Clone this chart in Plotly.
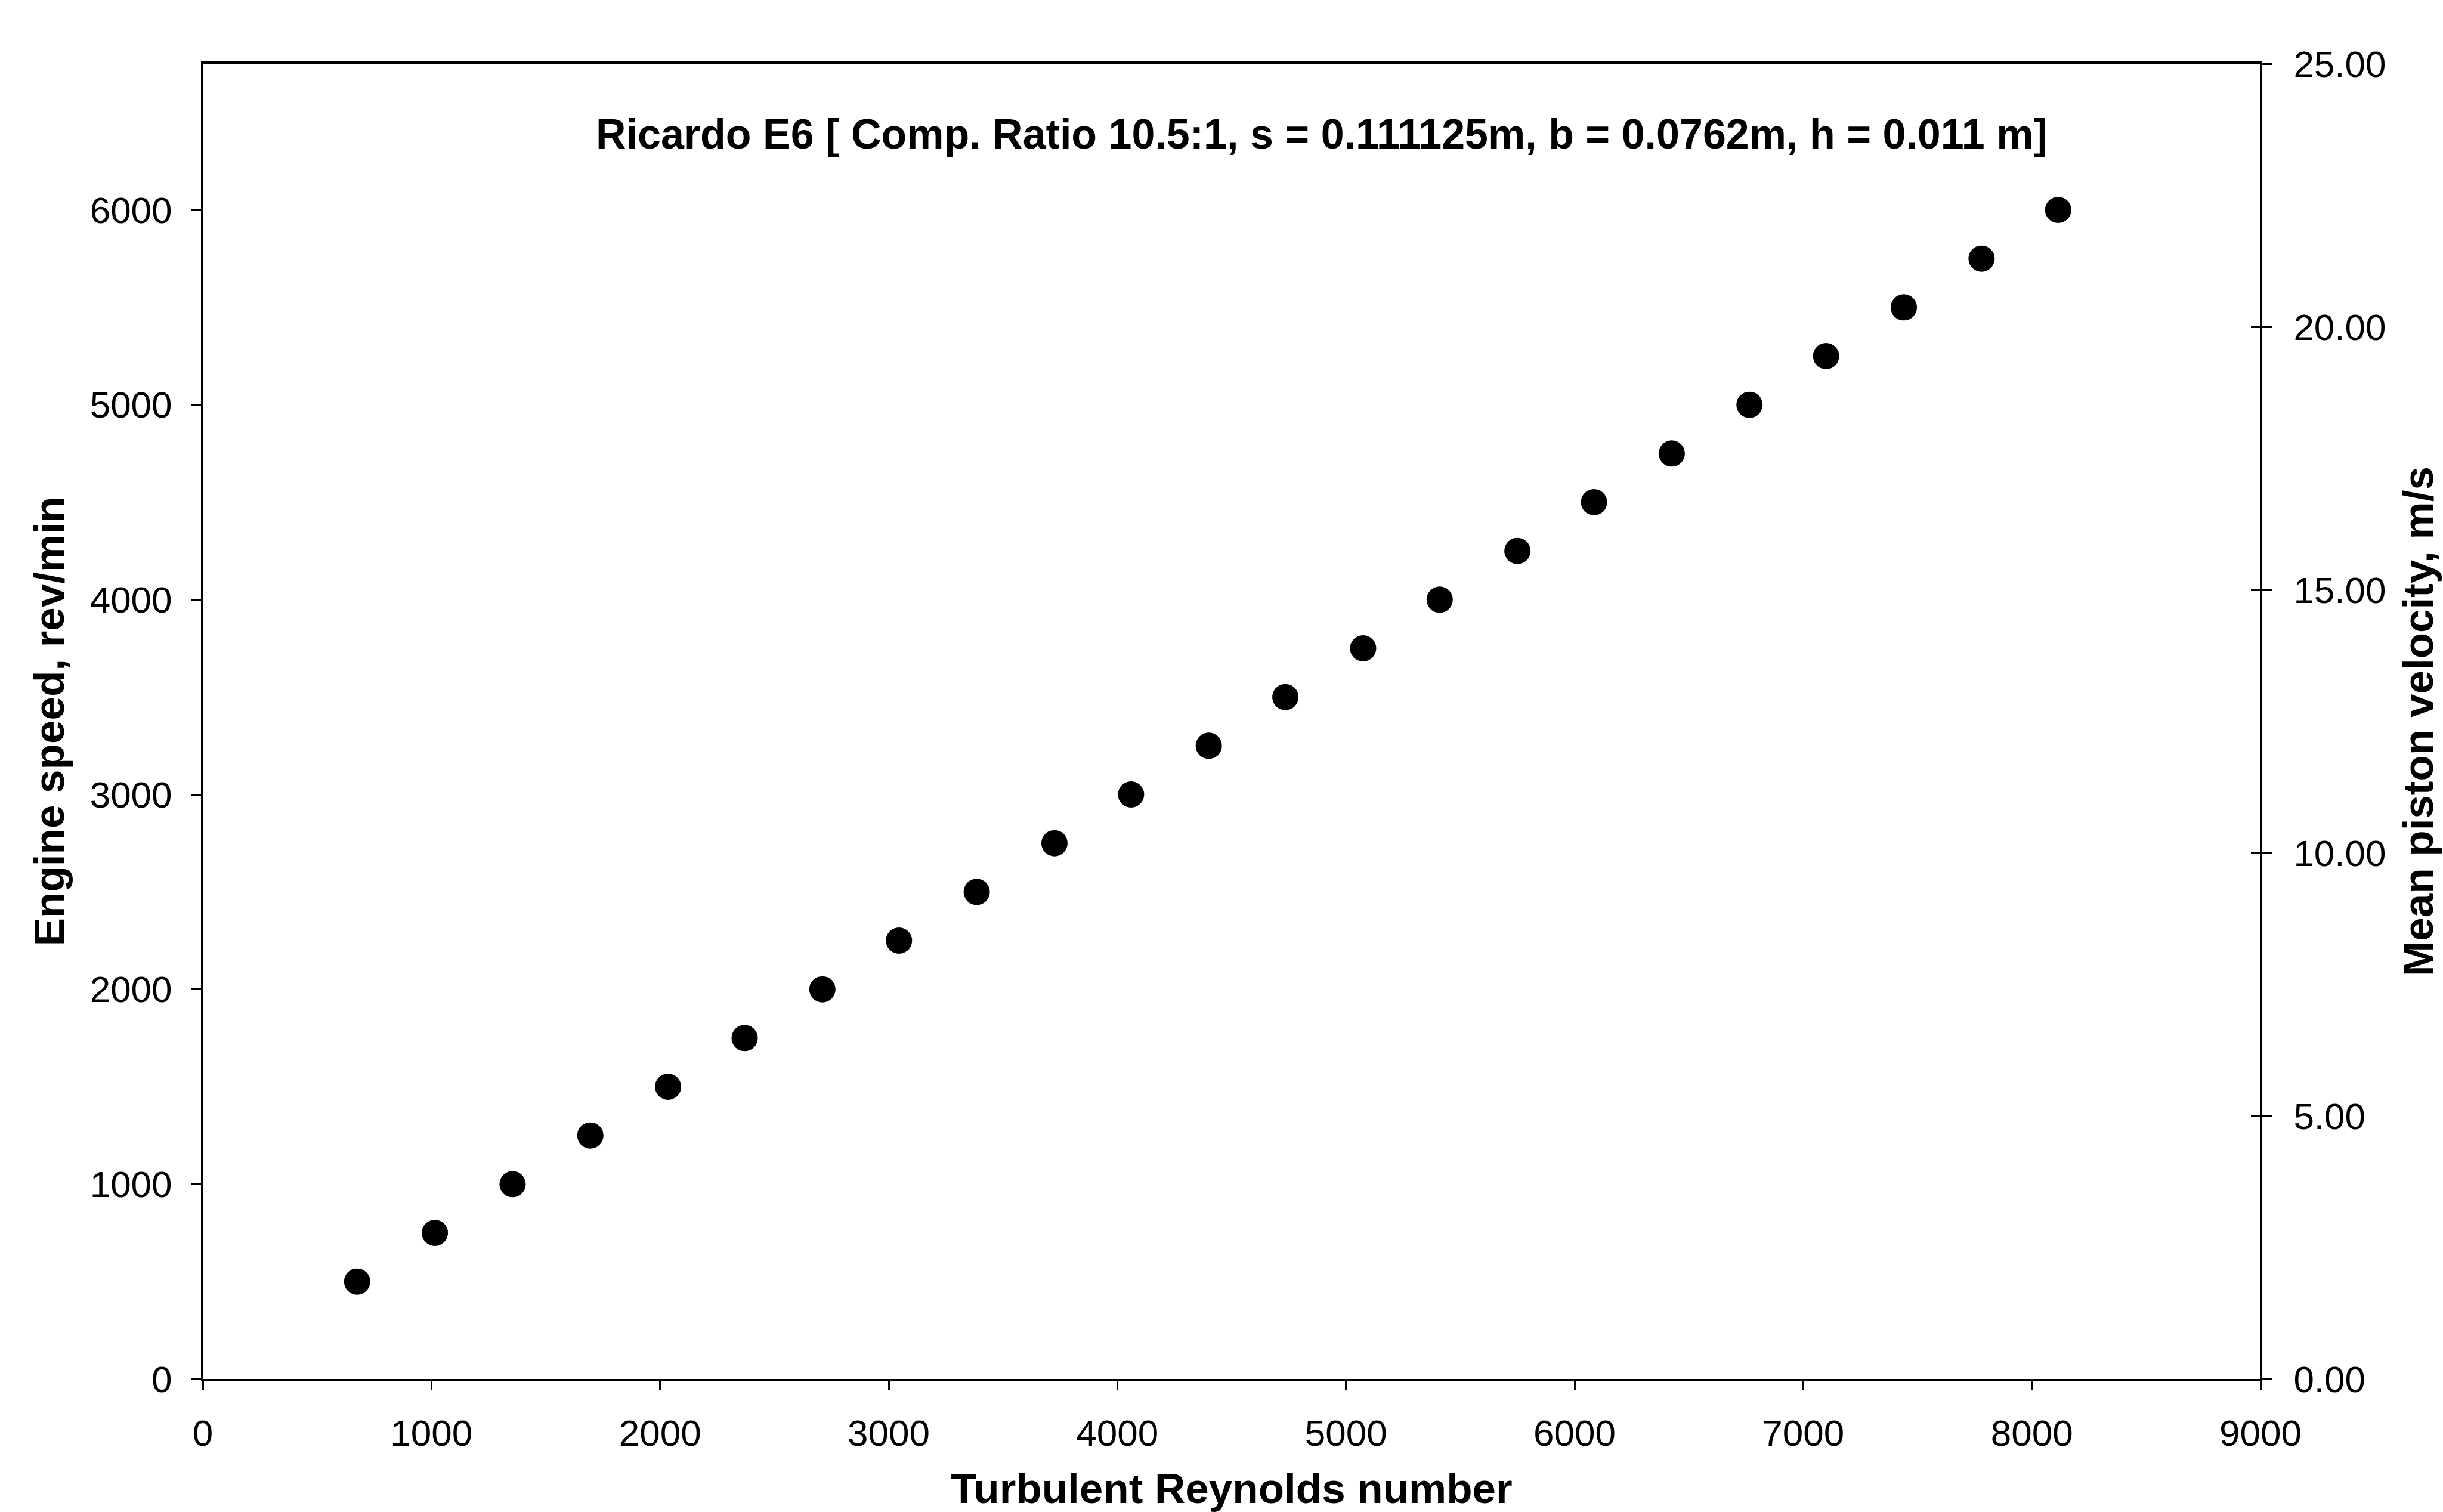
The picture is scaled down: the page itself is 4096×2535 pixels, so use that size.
import plotly.graph_objects as go

# Data
reynolds = [675, 1015, 1355, 1695, 2035, 2370, 2710, 3045, 3385, 3725, 4060, 4400,
            4735, 5075, 5410, 5750, 6085, 6425, 6765, 7100, 7440, 7780, 8115]
engine_speed = [500, 750, 1000, 1250, 1500, 1750, 2000, 2250, 2500, 2750, 3000, 3250,
                3500, 3750, 4000, 4250, 4500, 4750, 5000, 5250, 5500, 5750, 6000]

x_ticks = [0, 1000, 2000, 3000, 4000, 5000, 6000, 7000, 8000, 9000]
y_ticks = [0, 1000, 2000, 3000, 4000, 5000, 6000]
y2_ticks = [0, 5, 10, 15, 20, 25]

title_text = "Ricardo E6 [ Comp. Ratio 10.5:1, s = 0.111125m, b = 0.0762m, h = 0.011 m]"
x_title = "Turbulent Reynolds number"
y_title = "Engine speed, rev/min"
y2_title = "Mean piston velocity, m/s"

FONT = "Liberation Sans, Arial, sans-serif"
tick_font = dict(family=FONT, size=62, color="black")
title_font = dict(family=FONT, size=71, color="black", weight="bold")

fig = go.Figure()
fig.add_trace(go.Scatter(
    x=reynolds, y=engine_speed, mode="markers",
    marker=dict(color="black", size=44, symbol="circle"),
    showlegend=False, cliponaxis=False,
))
# empty traces so that the secondary (mean piston velocity) axis is drawn
fig.add_trace(go.Scatter(x=[], y=[], yaxis="y2", mode="markers",
                         showlegend=False, hoverinfo="skip"))
fig.add_trace(go.Scatter(x=[], y=[], yaxis="y3", mode="markers",
                         showlegend=False, hoverinfo="skip"))

fig.update_layout(
    width=4096, height=2535,
    margin=dict(l=340, r=306, t=107, b=223, autoexpand=False),
    paper_bgcolor="white", plot_bgcolor="white",
    showlegend=False,
    xaxis=dict(
        range=[0, 9000], tickvals=x_ticks, ticktext=[str(v) for v in x_ticks],
        showgrid=False, zeroline=False,
        showline=True, linecolor="black", linewidth=4, mirror=True,
        ticks="outside", ticklen=14, tickwidth=3, tickcolor="black",
        tickfont=tick_font, ticklabelstandoff=20,
        title=dict(text=x_title, font=title_font, standoff=40),
        automargin=False,
    ),
    yaxis=dict(
        range=[0, 6750], tickvals=y_ticks, ticktext=[str(v) for v in y_ticks],
        showgrid=False, zeroline=False,
        showline=True, linecolor="black", linewidth=3,
        ticks="outside", ticklen=16, tickwidth=3, tickcolor="black",
        tickfont=tick_font, ticklabelstandoff=20,
        title=dict(text=y_title, font=title_font, standoff=20),
        automargin=False,
    ),
    yaxis2=dict(
        range=[0, 25], tickvals=y2_ticks, tickformat=".2f",
        overlaying="y", side="right", anchor="x",
        showgrid=False, zeroline=False,
        showline=True, linecolor="black", linewidth=3,
        ticks="outside", ticklen=16, tickwidth=3, tickcolor="black",
        tickfont=tick_font, ticklabelstandoff=24,
        title=dict(text=y2_title, font=title_font, standoff=30),
        automargin=False,
    ),
    yaxis3=dict(
        range=[0, 25], tickvals=y2_ticks,
        overlaying="y", side="right", anchor="x",
        showgrid=False, zeroline=False, showline=False,
        ticks="inside", ticklen=16, tickwidth=3, tickcolor="black",
        showticklabels=False, automargin=False,
    ),
    annotations=[dict(
        text=title_text, xref="paper", yref="paper",
        x=(4894 / 9000), y=0.9467, xanchor="center", yanchor="middle",
        showarrow=False, font=dict(family=FONT, size=70, color="black", weight="bold"),
    )],
)

fig.write_html("out.html")
